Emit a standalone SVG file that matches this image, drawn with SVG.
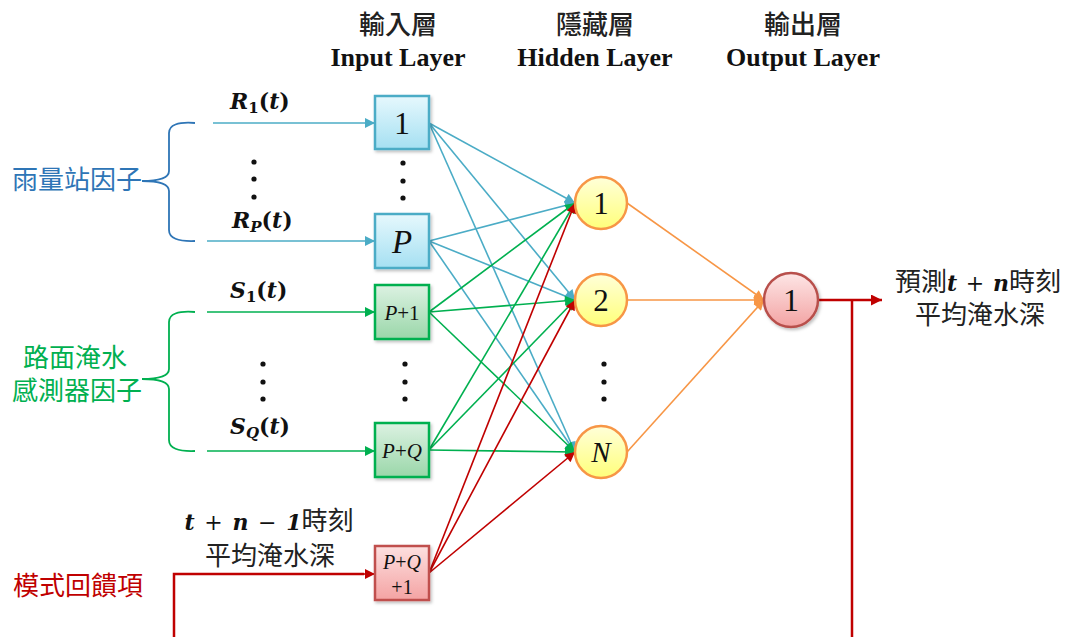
<svg xmlns="http://www.w3.org/2000/svg" width="1065" height="637" viewBox="0 0 1065 637">
<style>
.cjk{font-family:"Noto Sans CJK TC","Noto Sans CJK SC",sans-serif;}
.hdr{font-family:"Noto Sans CJK TC",sans-serif;font-weight:500;font-size:26px;fill:#222;text-anchor:middle;}
.hen{font-family:"Liberation Serif",serif;font-weight:bold;font-size:26px;fill:#111;text-anchor:middle;}
.math{font-family:"DejaVu Serif",serif;font-weight:bold;font-style:italic;font-size:22px;fill:#111;}
.op{font-weight:normal;font-style:normal;}
.num{font-family:"Liberation Serif",serif;fill:#111;text-anchor:middle;}
.it{font-style:italic;}
.dot{fill:#111;}
.cb{stroke:#4bacc6;stroke-width:1.6;fill:none;marker-end:url(#ab);}
.cg{stroke:#00b050;stroke-width:1.6;fill:none;marker-end:url(#ag);}
.cr{stroke:#c00000;stroke-width:1.6;fill:none;marker-end:url(#ar);}
.co{stroke:#f79646;stroke-width:1.6;fill:none;marker-end:url(#ao);}
.fb{stroke:#c00000;stroke-width:2.5;fill:none;}
.box{stroke-width:2.5;filter:url(#sh);}
</style>
<defs>
<linearGradient id="gb" x1="0" y1="0" x2="0" y2="1"><stop offset="0" stop-color="#e6f8fd"/><stop offset="1" stop-color="#a5e0f2"/></linearGradient>
<linearGradient id="gg" x1="0" y1="0" x2="0" y2="1"><stop offset="0" stop-color="#dcf2e2"/><stop offset="1" stop-color="#9ad7a9"/></linearGradient>
<linearGradient id="gr" x1="0" y1="0" x2="0" y2="1"><stop offset="0" stop-color="#fde0e0"/><stop offset="1" stop-color="#f4a3a3"/></linearGradient>
<linearGradient id="gy" x1="0" y1="0" x2="0" y2="1"><stop offset="0" stop-color="#ffffd9"/><stop offset="1" stop-color="#ffff7a"/></linearGradient>
<linearGradient id="gp" x1="0" y1="0" x2="0" y2="1"><stop offset="0" stop-color="#fde6e6"/><stop offset="1" stop-color="#f3a3a3"/></linearGradient>
<filter id="sh" x="-20%" y="-20%" width="150%" height="150%"><feDropShadow dx="1.5" dy="2" stdDeviation="1.5" flood-color="#000" flood-opacity="0.25"/></filter>
<marker id="ab" viewBox="0 0 10 10" refX="10" refY="5" markerUnits="userSpaceOnUse" markerWidth="12" markerHeight="10" orient="auto"><path d="M0,0 L10,5 L0,10 z" fill="#4bacc6"/></marker>
<marker id="ag" viewBox="0 0 10 10" refX="10" refY="5" markerUnits="userSpaceOnUse" markerWidth="12" markerHeight="10" orient="auto"><path d="M0,0 L10,5 L0,10 z" fill="#00b050"/></marker>
<marker id="ar" viewBox="0 0 10 10" refX="10" refY="5" markerUnits="userSpaceOnUse" markerWidth="12" markerHeight="10" orient="auto"><path d="M0,0 L10,5 L0,10 z" fill="#c00000"/></marker>
<marker id="ao" viewBox="0 0 10 10" refX="10" refY="5" markerUnits="userSpaceOnUse" markerWidth="12" markerHeight="10" orient="auto"><path d="M0,0 L10,5 L0,10 z" fill="#f79646"/></marker>
<marker id="ar2" viewBox="0 0 10 10" refX="10" refY="5" markerUnits="userSpaceOnUse" markerWidth="13" markerHeight="11" orient="auto"><path d="M0,0 L10,5 L0,10 z" fill="#c00000"/></marker>
</defs>
<rect width="1065" height="637" fill="#fff"/>

<g id="headers">
<text class="hdr" x="398" y="34">輸入層</text>
<text class="hen" x="398" y="66">Input Layer</text>
<text class="hdr" x="595" y="34">隱藏層</text>
<text class="hen" x="595" y="66">Hidden Layer</text>
<text class="hdr" x="803" y="34">輸出層</text>
<text class="hen" x="803" y="66">Output Layer</text>
</g>

<g id="factor-labels">
<g id="rain">
<text class="cjk" x="12" y="189" font-size="26" fill="#2e75b6">雨量站因子</text>
<path d="M195,123 Q169,121 169,133 L169,171 Q169,181 142,181 Q169,181 169,191 L169,230 Q169,242 195,241" fill="none" stroke="#2e75b6" stroke-width="1.8"/>
</g>
<g id="sensor">
<text class="cjk" x="75" y="367" font-size="26" fill="#00b050" text-anchor="middle">路面淹水</text>
<text class="cjk" x="12" y="400" font-size="26" fill="#00b050">感測器因子</text>
<path d="M195,312 Q169,310 169,322 L169,369 Q169,379 142,379 Q169,379 169,389 L169,440 Q169,452 195,451" fill="none" stroke="#00b050" stroke-width="1.8"/>
</g>
<g id="feedback">
<text class="cjk" x="13" y="595" font-size="26" fill="#c00000">模式回饋項</text>
<text x="269" y="530" text-anchor="middle"><tspan class="math" font-size="23" word-spacing="2">t <tspan class="op">+</tspan> n <tspan class="op">−</tspan> 1</tspan><tspan class="cjk" font-size="26" fill="#222">時刻</tspan></text>
<text class="cjk" x="270" y="565" font-size="26" fill="#222" text-anchor="middle">平均淹水深</text>
</g>
<g id="input-labels">
<text class="math" x="230" y="109">R<tspan font-size="15" dy="4" font-style="normal">1</tspan><tspan dy="-4" font-style="normal">(</tspan>t<tspan font-style="normal">)</tspan></text>
<text class="math" x="232" y="228">R<tspan font-size="15" dy="4">P</tspan><tspan dy="-4" font-style="normal">(</tspan>t<tspan font-style="normal">)</tspan></text>
<text class="math" x="230" y="298">S<tspan font-size="15" dy="4" font-style="normal">1</tspan><tspan dy="-4" font-style="normal">(</tspan>t<tspan font-style="normal">)</tspan></text>
<text class="math" x="230" y="434">S<tspan font-size="15" dy="4">Q</tspan><tspan dy="-4" font-style="normal">(</tspan>t<tspan font-style="normal">)</tspan></text>
</g>
<g id="dots">
<circle class="dot" cx="254" cy="162" r="2.6"/><circle class="dot" cx="254" cy="179" r="2.6"/><circle class="dot" cx="254" cy="197" r="2.6"/>
<circle class="dot" cx="403" cy="163" r="2.6"/><circle class="dot" cx="403" cy="181" r="2.6"/><circle class="dot" cx="403" cy="198" r="2.6"/>
<circle class="dot" cx="263" cy="364" r="2.6"/><circle class="dot" cx="263" cy="382" r="2.6"/><circle class="dot" cx="263" cy="399" r="2.6"/>
<circle class="dot" cx="405" cy="364" r="2.6"/><circle class="dot" cx="405" cy="382" r="2.6"/><circle class="dot" cx="405" cy="399" r="2.6"/>
<circle class="dot" cx="604" cy="364" r="2.6"/><circle class="dot" cx="604" cy="382" r="2.6"/><circle class="dot" cx="604" cy="399" r="2.6"/>
</g>
</g>

<g id="connectors">
<line class="cb" x1="213" y1="123" x2="375" y2="123"/>
<line class="cb" x1="207" y1="241" x2="375" y2="241"/>
<line class="cg" x1="207" y1="312" x2="375" y2="312"/>
<line class="cg" x1="207" y1="451" x2="375" y2="451"/>
<path class="fb" d="M174,637 L174,574 L364,574"/>
<line class="cr" x1="364" y1="574" x2="375" y2="574"/>

<line class="cb" x1="429" y1="123" x2="575" y2="203"/>
<line class="cb" x1="429" y1="123" x2="575" y2="300"/>
<line class="cb" x1="429" y1="123" x2="575" y2="452"/>
<line class="cb" x1="429" y1="241" x2="575" y2="203"/>
<line class="cb" x1="429" y1="241" x2="575" y2="300"/>
<line class="cb" x1="429" y1="241" x2="575" y2="452"/>
<line class="cg" x1="429" y1="312" x2="575" y2="203"/>
<line class="cg" x1="429" y1="312" x2="575" y2="300"/>
<line class="cg" x1="429" y1="312" x2="575" y2="452"/>
<line class="cg" x1="429" y1="450" x2="575" y2="203"/>
<line class="cg" x1="429" y1="450" x2="575" y2="300"/>
<line class="cg" x1="429" y1="450" x2="575" y2="452"/>
<line class="cr" x1="429" y1="573" x2="575" y2="203"/>
<line class="cr" x1="429" y1="573" x2="575" y2="300"/>
<line class="cr" x1="429" y1="573" x2="575" y2="452"/>

<line class="co" x1="627" y1="203" x2="764" y2="300"/>
<line class="co" x1="627" y1="300" x2="764" y2="300"/>
<line class="co" x1="627" y1="452" x2="764" y2="300"/>

<line x1="818" y1="300" x2="882" y2="300" stroke="#c00000" stroke-width="2.5" marker-end="url(#ar2)"/>
<line class="fb" x1="852" y1="300" x2="852" y2="637"/>
</g>

<g id="in-1"><rect class="box" x="375" y="96" width="54" height="53" fill="url(#gb)" stroke="#4bacc6"/><text class="num" x="402" y="134" font-size="32">1</text></g>
<g id="in-P"><rect class="box" x="375" y="214" width="54" height="54" fill="url(#gb)" stroke="#4bacc6"/><text class="num it" x="402" y="253" font-size="33">P</text></g>
<g id="in-P1"><rect class="box" x="375" y="285" width="54" height="54" fill="url(#gg)" stroke="#00b050"/><text class="num" x="402" y="320" font-size="21"><tspan class="it">P</tspan>+1</text></g>
<g id="in-PQ"><rect class="box" x="375" y="423" width="54" height="54" fill="url(#gg)" stroke="#00b050"/><text class="num" x="402" y="458" font-size="21"><tspan class="it">P</tspan>+<tspan class="it">Q</tspan></text></g>
<g id="in-PQ1"><rect class="box" x="375" y="546" width="54" height="54" fill="url(#gr)" stroke="#c0504d"/><text class="num" x="402" y="569" font-size="20"><tspan class="it">P</tspan>+<tspan class="it">Q</tspan></text><text class="num" x="402" y="594" font-size="20">+1</text></g>

<g id="hid-1"><circle cx="601" cy="203" r="26" fill="url(#gy)" stroke="#f79646" stroke-width="2.5"/><text class="num" x="601" y="214" font-size="31">1</text></g>
<g id="hid-2"><circle cx="601" cy="300" r="26" fill="url(#gy)" stroke="#f79646" stroke-width="2.5"/><text class="num" x="601" y="311" font-size="31">2</text></g>
<g id="hid-N"><circle cx="601" cy="452" r="26" fill="url(#gy)" stroke="#f79646" stroke-width="2.5"/><text class="num it" x="601" y="462" font-size="29">N</text></g>

<g id="out-1"><circle cx="791" cy="300" r="27" fill="url(#gp)" stroke="#b8504c" stroke-width="2.5" filter="url(#sh)"/><text class="num" x="791" y="311" font-size="32">1</text></g>

<g id="output-label">
<text x="978" y="291" text-anchor="middle"><tspan class="cjk" font-size="26" fill="#222">預測</tspan><tspan class="math" font-size="23" word-spacing="1">t <tspan class="op">+</tspan> n</tspan><tspan class="cjk" font-size="26" fill="#222">時刻</tspan></text>
<text class="cjk" x="980" y="324" font-size="26" fill="#222" text-anchor="middle">平均淹水深</text>
</g>
</svg>
